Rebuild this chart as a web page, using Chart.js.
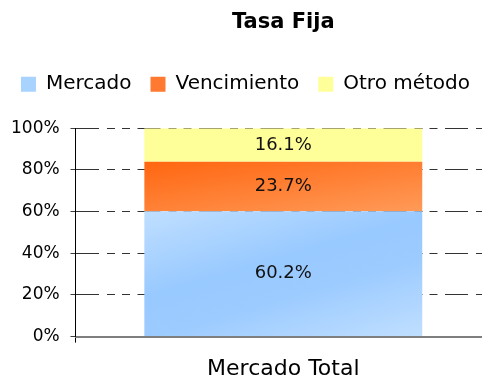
<html>
  <head>
    <title>Tasa Fija</title>
    <script type="text/javascript" src="https://cdn.jsdelivr.net/npm/chart.js@4.4.1/dist/chart.umd.min.js"></script>
    <style>
      body { margin: 0; background: #fff; overflow: hidden; }
    </style>
  </head>
  <body>
    <!-- plot runs a little past the right edge of the window -->
    <canvas id="TasaChart" width="491" height="377" style="display: block;"></canvas>
    <script>
      var categories = ['Mercado Total'];
      var mercado = [60.2];
      var vencimiento = [23.7];
      var otroMetodo = [16.1];
      var yTicks = [0, 20, 40, 60, 80, 100];

      var FONT = '"DejaVu Sans", Verdana, sans-serif';
      var BAR_PCT = 0.669;

      // gradient over one stacked segment, running from its top-left corner along (dx, dy)
      function barGradient(ctx, stops, from, to, dx, dy) {
        var chart = ctx.chart;
        var area = chart.chartArea;
        if (!area) return stops[0][1];
        var x = chart.scales.x, y = chart.scales.y;
        var cx = x.getPixelForValue(ctx.dataIndex || 0);
        var w = area.width * BAR_PCT;
        var top = y.getPixelForValue(to), h = y.getPixelForValue(from) - top;
        var n = Math.sqrt(dx * dx + dy * dy);
        dx /= n; dy /= n;
        var len = w * dx + h * dy;
        var x0 = cx - w / 2;
        var g = chart.ctx.createLinearGradient(x0, top, x0 + len * dx, top + len * dy);
        stops.forEach(function (s) { g.addColorStop(s[0], s[1]); });
        return g;
      }

      // value text in the middle of each segment
      var segmentLabels = {
        id: 'segmentLabels',
        afterDatasetsDraw: function (chart) {
          var c = chart.ctx;
          c.save();
          c.font = '18px ' + FONT;
          c.fillStyle = '#111';
          c.textAlign = 'center';
          c.textBaseline = 'middle';
          chart.data.datasets.forEach(function (ds, i) {
            chart.getDatasetMeta(i).data.forEach(function (bar, j) {
              c.fillText(ds.data[j].toFixed(1) + '%', bar.x, (bar.y + bar.base) / 2);
            });
          });
          c.restore();
        }
      };

      // extra room between the legend and the plot
      var legendGap = {
        id: 'legendGap',
        beforeInit: function (chart) {
          var fit = chart.legend.fit;
          chart.legend.fit = function () {
            fit.call(this);
            this.height += 24;
          };
        }
      };

      var ctx = document.getElementById('TasaChart').getContext('2d');
      var chart = new Chart(ctx, {
        type: 'bar',
        data: {
          labels: categories,
          datasets: [{
              label: 'Mercado',
              data: mercado,
              legendColor: '#a9d3ff',
              backgroundColor: function (c) {
                return barGradient(c, [[0, '#c0dfff'], [0.42, '#98c9ff'], [0.62, '#9ccbff'], [1, '#c0dfff']],
                  0, mercado[0], 0.28, 0.96);
              }
            },
            {
              label: 'Vencimiento',
              data: vencimiento,
              legendColor: '#ff7a30',
              backgroundColor: function (c) {
                var lo = mercado[0];
                return barGradient(c, [[0, '#ff6610'], [1, '#ff9a58']], lo, lo + vencimiento[0], 0.15, 0.99);
              }
            },
            {
              label: 'Otro método',
              data: otroMetodo,
              legendColor: '#ffff99',
              backgroundColor: '#ffff99'
            }
          ]
        },
        plugins: [segmentLabels, legendGap],
        options: {
          responsive: false,
          animation: false,
          datasets: {
            bar: { categoryPercentage: 1, barPercentage: BAR_PCT }
          },
          layout: { padding: { left: 0, right: 0, top: 0, bottom: -18 } },
          plugins: {
            tooltip: { enabled: false },
            title: {
              display: true,
              fullSize: false,
              text: 'Tasa Fija',
              color: '#000',
              font: { family: FONT, size: 21, weight: 'bold' },
              padding: { top: 10, bottom: 20 }
            },
            legend: {
              position: 'top',
              labels: {
                color: '#000',
                font: { family: FONT, size: 20 },
                boxWidth: 15,
                boxHeight: 15,
                padding: 19,
                generateLabels: function (chart) {
                  return chart.data.datasets.map(function (ds, i) {
                    return {
                      text: ds.label,
                      fillStyle: ds.legendColor,
                      strokeStyle: ds.legendColor,
                      lineWidth: 0,
                      datasetIndex: i
                    };
                  });
                }
              }
            }
          },
          scales: {
            x: {
              stacked: true,
              border: { color: '#7f7f7f', width: 2 },
              grid: { drawOnChartArea: false, tickLength: 6, color: '#000' },
              ticks: { color: '#000', font: { family: FONT, size: 22 }, padding: 13 }
            },
            y: {
              stacked: true,
              min: 0,
              max: 100,
              afterBuildTicks: function (axis) {
                axis.ticks = yTicks.map(function (v) { return { value: v }; });
              },
              border: { color: '#000', width: 1, dash: [23, 8, 8, 7, 8, 7.5] },
              grid: {
                color: '#333',
                tickLength: 5,
                tickBorderDash: [1, 0],
                tickColor: '#000'
              },
              ticks: {
                color: '#000',
                font: { family: FONT, size: 17 },
                padding: 11,
                callback: function (v) { return v + '%'; }
              }
            }
          }
        }
      });
    </script>
  </body>
</html>
